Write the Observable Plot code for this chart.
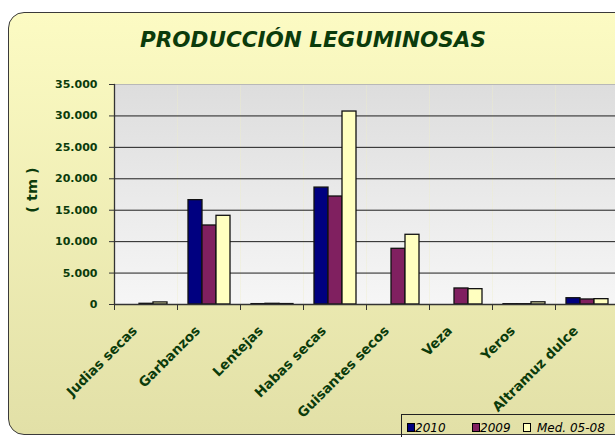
<!DOCTYPE html>
<html>
<head>
<meta charset="utf-8">
<script src="https://cdn.jsdelivr.net/npm/d3@7"></script>
<script src="https://cdn.jsdelivr.net/npm/@observablehq/plot@0.6"></script>
<style>
html, body { margin: 0; padding: 0; background: #fff; overflow: hidden; width: 615px; height: 437px; }
#wrap { position: relative; width: 615px; height: 437px; overflow: hidden; }
#box { position: absolute; left: 8px; top: 12px; width: 660px; height: 421px; border: 1.3px solid #3a3a3a; border-radius: 16px; background: linear-gradient(#fcfbc3, #e2e0a7); }
#chart { position: absolute; left: 0; top: 0; }
#title { position: absolute; left: 0; width: 626px; top: 29px; text-align: center; font: italic bold 21.5px "DejaVu Sans"; line-height: 1; color: #0b3b0b; white-space: nowrap; }
#ylab { position: absolute; left: 32px; top: 190px; transform: translate(-50%, -50%) rotate(-90deg); font: bold 14.5px "DejaVu Sans"; color: #0b3b0b; white-space: pre; }
#legend { position: absolute; left: 401px; top: 414px; width: 260px; height: 40px; border: 1px solid #222; }
.sw { position: absolute; top: 8px; width: 6px; height: 7px; border: 1px solid #000; }
.lt { position: absolute; top: 7px; font: italic 12px "DejaVu Sans"; line-height: 1; color: #000; white-space: nowrap; }
</style>
</head>
<body>
<div id="wrap">
  <div id="box"></div>
  <div id="chart"></div>
  <div id="title"></div>
  <div id="ylab"></div>
  <div id="legend"></div>
</div>
<script>
const titleText = "PRODUCCIÓN LEGUMINOSAS";
const yLabel = "( tm )";
const categories = ["Judias secas", "Garbanzos", "Lentejas", "Habas secas", "Guisantes secos", "Veza", "Yeros", "Altramuz dulce"];
const series = ["2010", "2009", "Med. 05-08"];
const v2010 = [0, 16600, 60, 18600, 0, 0, 50, 1000];
const v2009 = [110, 12570, 110, 17180, 8860, 2550, 50, 800];
const vMed  = [330, 14110, 70, 30700, 11090, 2440, 350, 850];
const colors = ["#000080", "#802060", "#ffffc0"];
const yTicks = [0, 5000, 10000, 15000, 20000, 25000, 30000, 35000];
const gridTicks = [5000, 10000, 15000, 20000, 25000, 30000];

const valuesBySeries = [v2010, v2009, vMed];
const data = categories.flatMap((c, i) => series.map((s, j) => ({cat: c, ser: s, v: valuesBySeries[j][i]})));

const W = 630, H = 437, ML = 112, MR = 10, MT = 84, MB = 133;
const ink = "#0b3b0b";
const fmt = d => d3.format(",")(d).replace(/,/g, ".");

const svg = Plot.plot({
  width: W, height: H,
  marginLeft: ML, marginRight: MR, marginTop: MT, marginBottom: MB,
  style: {background: "transparent", maxWidth: "none", fontFamily: "DejaVu Sans", fontSize: "11px"},
  fx: {domain: categories, padding: 0, axis: null, label: null},
  x: {domain: series, paddingInner: 0, paddingOuter: 0.69, axis: null},
  y: {domain: [0, 35000]},
  color: {domain: series, range: colors},
  marks: [
    Plot.frame({fill: "url(#plotbg)"}),
    Plot.ruleY(gridTicks, {y: d => d, stroke: "#1e1e1e", strokeWidth: 1}),
    Plot.ruleY([35000], {stroke: "#b8b8b8"}),
    Plot.barY(data, {fx: "cat", x: "ser", y: "v", fill: "ser", stroke: "#111", strokeWidth: 1.3}),
    Plot.ruleY([0], {stroke: "#333", strokeWidth: 1.3}),
    Plot.frame({anchor: "left", facetAnchor: "left", stroke: "#333", strokeWidth: 1.3}),
    Plot.frame({anchor: "left", stroke: "#333", insetTop: H - MT - MB, insetBottom: -5}),
    Plot.axisY({ticks: yTicks, tickFormat: fmt, tickSize: 5, tickPadding: 12, stroke: "#333", fill: ink, fontWeight: "bold", fontSize: 11, label: null, facetAnchor: "left"}),
    Plot.text(categories, {fx: d => d, text: d => d, frameAnchor: "bottom", rotate: -45, textAnchor: "end", lineAnchor: "bottom", dx: -8, dy: 27, fontSize: 13.5, fontWeight: "bold", fill: ink})
  ]
});

const defs = d3.select(svg).insert("defs", ":first-child");
const grad = defs.append("linearGradient").attr("id", "plotbg").attr("x1", 0).attr("y1", 0).attr("x2", 0).attr("y2", 1);
grad.append("stop").attr("offset", 0).attr("stop-color", "#dddddd");
grad.append("stop").attr("offset", 1).attr("stop-color", "#f6f6f6");

document.getElementById("chart").appendChild(svg);
document.getElementById("title").textContent = titleText;
document.getElementById("ylab").textContent = yLabel;

const legend = document.getElementById("legend");
const swX = [5, 70, 121];
const txX = [13, 78, 135];
series.forEach((s, i) => {
  const sw = document.createElement("div");
  sw.className = "sw"; sw.style.left = swX[i] + "px"; sw.style.background = colors[i];
  legend.appendChild(sw);
  const t = document.createElement("div");
  t.className = "lt"; t.style.left = txX[i] + "px"; t.textContent = s;
  legend.appendChild(t);
});
</script>
</body>
</html>
